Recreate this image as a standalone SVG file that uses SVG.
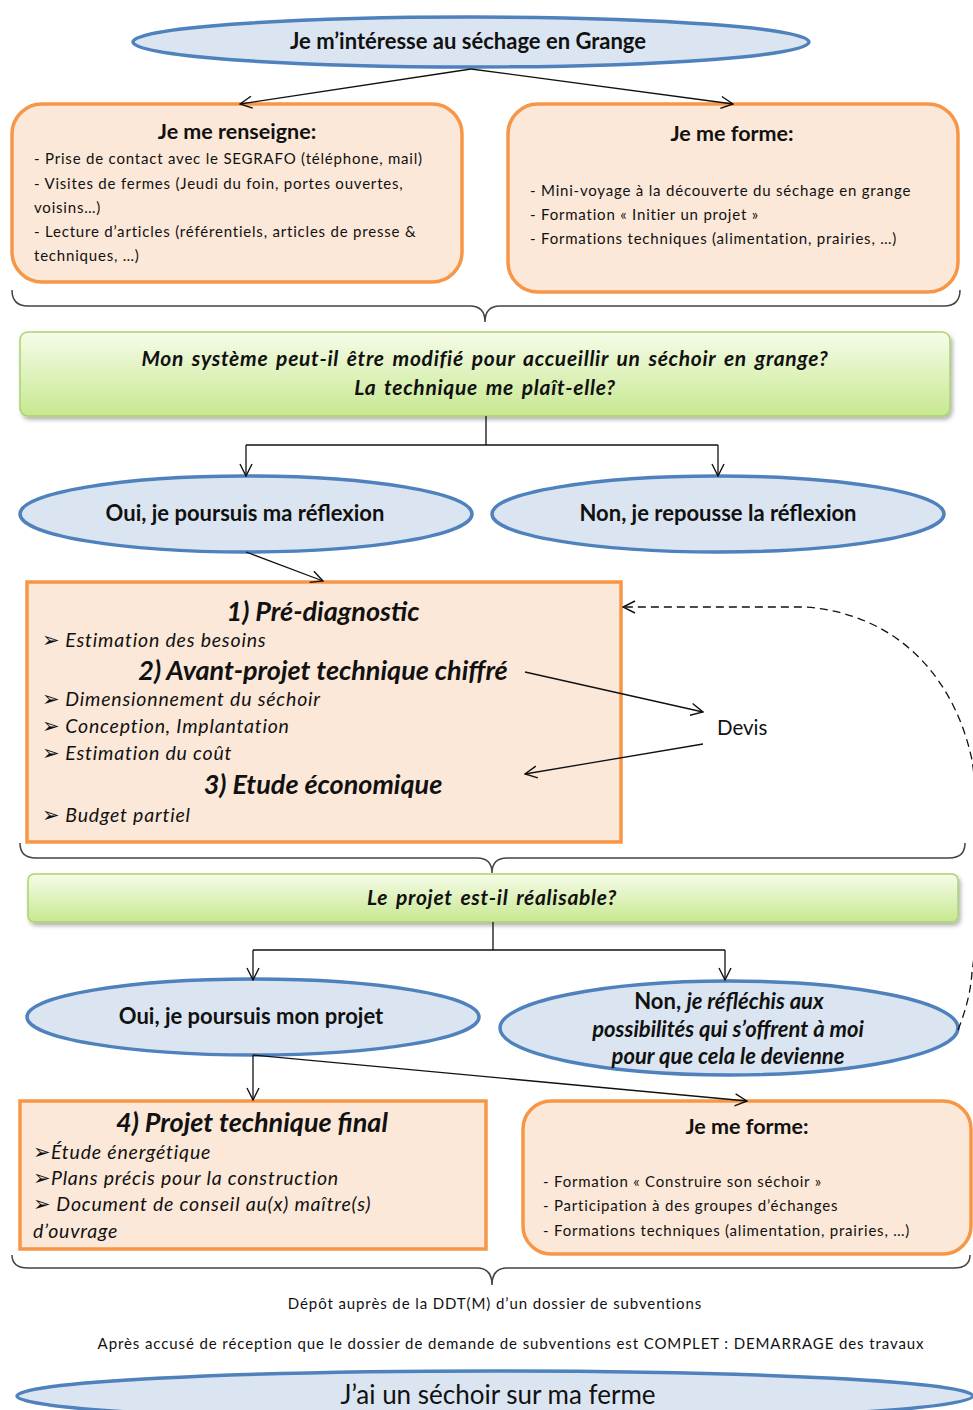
<svg xmlns="http://www.w3.org/2000/svg" width="973" height="1410" viewBox="0 0 973 1410">
<defs>
<style>
text{font-family:Lato,"Open Sans","Liberation Sans",sans-serif;fill:#111}
.ell{fill:#dbe5f1;stroke:#4f81bd;stroke-width:3.5}
.peach{fill:#fce8d8;stroke:#f79646;stroke-width:3.5}
.green{fill:url(#gg);stroke:#a9d46d;stroke-width:1.5;filter:url(#sh)}
.brace{fill:none;stroke:#444;stroke-width:1.5}
.con{fill:none;stroke:#111;stroke-width:1.3}
.t{font-size:22px;font-weight:bold;text-anchor:middle}
.bt{font-size:21.5px;font-weight:bold;text-anchor:middle}
.s{font-size:15px;letter-spacing:0.8px}
.it{font-size:19.5px;font-style:italic;letter-spacing:0.8px}
.bu{font-size:21px;font-style:normal;letter-spacing:0}
.h{font-size:27px;font-weight:bold;font-style:italic;text-anchor:middle}
.q{font-size:21px;font-weight:bold;font-style:italic;text-anchor:middle;letter-spacing:0.7px;word-spacing:2.5px}
.f{font-size:15px;letter-spacing:0.9px;text-anchor:middle}
</style>
<linearGradient id="gg" x1="0" y1="0" x2="0" y2="1">
<stop offset="0" stop-color="#f6fce9"/>
<stop offset="1" stop-color="#c7e890"/>
</linearGradient>
<filter id="sh" x="-5%" y="-20%" width="110%" height="150%">
<feDropShadow dx="2" dy="3" stdDeviation="2" flood-color="#000" flood-opacity="0.3"/>
</filter>
<marker id="a" viewBox="0 0 14 14" refX="13" refY="7" markerWidth="14" markerHeight="14" markerUnits="userSpaceOnUse" orient="auto">
<path d="M1,1 L13,7 L1,13" fill="none" stroke="#111" stroke-width="1.4"/>
</marker>
</defs>
<rect width="973" height="1410" fill="#fff"/>

<g id="n-interesse">
<ellipse class="ell" cx="471" cy="42" rx="338" ry="25"/>
<text class="t" x="468" y="49">Je m’intéresse au séchage en Grange</text>
</g>

<g id="n-renseigne">
<rect class="peach" x="12" y="104" width="450" height="178" rx="30"/>
<text class="bt" x="237" y="139">Je me renseigne:</text>
<text class="s" x="34" y="164">- Prise de contact avec le SEGRAFO (téléphone, mail)</text>
<text class="s" x="34" y="189">- Visites de fermes (Jeudi du foin, portes ouvertes,</text>
<text class="s" x="34" y="213">voisins…)</text>
<text class="s" x="34" y="237">- Lecture d’articles (référentiels, articles de presse &amp;</text>
<text class="s" x="34" y="261">techniques, …)</text>
</g>

<g id="n-forme1">
<rect class="peach" x="508" y="104" width="450" height="188" rx="30"/>
<text class="bt" x="732" y="141">Je me forme:</text>
<text class="s" x="530" y="196">-  Mini-voyage à la découverte du séchage en grange</text>
<text class="s" x="530" y="220">- Formation « Initier un projet »</text>
<text class="s" x="530" y="244">- Formations techniques (alimentation,  prairies, …)</text>
</g>

<g id="n-systeme">
<rect class="green" x="20" y="332" width="930" height="84" rx="8"/>
<text class="q" x="485" y="366">Mon système peut-il être modifié pour accueillir  un séchoir en grange?</text>
<text class="q" x="485" y="395">La technique  me plaît-elle?</text>
</g>

<g id="n-oui1">
<ellipse class="ell" cx="246" cy="514" rx="226" ry="38"/>
<text class="t" x="245" y="521">Oui, je poursuis ma réflexion</text>
</g>

<g id="n-non1">
<ellipse class="ell" cx="718" cy="514" rx="226" ry="38"/>
<text class="t" x="718" y="521">Non, je repousse la réflexion</text>
</g>

<g id="n-etude">
<rect class="peach" x="27" y="582" width="594" height="260"/>
<text class="h" x="323" y="621">1) Pré-diagnostic</text>
<text class="it" x="42" y="647"><tspan class="bu">➢</tspan> Estimation des besoins</text>
<text class="h" x="323" y="680">2) Avant-projet technique chiffré</text>
<text class="it" x="42" y="706"><tspan class="bu">➢</tspan> Dimensionnement du séchoir</text>
<text class="it" x="42" y="733"><tspan class="bu">➢</tspan> Conception, Implantation</text>
<text class="it" x="42" y="760"><tspan class="bu">➢</tspan> Estimation du coût</text>
<text class="h" x="323" y="794">3) Etude économique</text>
<text class="it" x="42" y="822"><tspan class="bu">➢</tspan> Budget partiel</text>
</g>

<g id="n-devis">
<text x="717" y="735" font-size="20.5">Devis</text>
</g>

<g id="n-realisable">
<rect class="green" x="28" y="874" width="930" height="48" rx="6"/>
<text class="q" x="492" y="905">Le projet est-il réalisable?</text>
</g>

<g id="n-oui2">
<ellipse class="ell" cx="253" cy="1017" rx="226" ry="38"/>
<text class="t" x="251" y="1024">Oui, je poursuis mon projet</text>
</g>

<g id="n-non2">
<ellipse class="ell" cx="729" cy="1028" rx="229" ry="47"/>
<text class="t" x="729" y="1009"><tspan>Non, </tspan><tspan font-style="italic">je réfléchis aux</tspan></text>
<text class="t" x="728" y="1037" font-style="italic">possibilités qui s’offrent à moi</text>
<text class="t" x="728" y="1064" font-style="italic">pour que cela le devienne</text>
</g>

<g id="n-final">
<rect class="peach" x="20" y="1101" width="466" height="148"/>
<text class="h" x="252" y="1132">4) Projet technique final</text>
<text class="it" x="33" y="1159"><tspan class="bu">➢</tspan>Étude énergétique</text>
<text class="it" x="33" y="1185"><tspan class="bu">➢</tspan>Plans précis pour la construction</text>
<text class="it" x="33" y="1211"><tspan class="bu">➢</tspan> Document de conseil au(x) maître(s)</text>
<text class="it" x="33" y="1238">d’ouvrage</text>
</g>

<g id="n-forme2">
<rect class="peach" x="523" y="1101" width="448" height="153" rx="28"/>
<text class="bt" x="747" y="1134">Je me forme:</text>
<text class="s" x="543" y="1187">- Formation « Construire son séchoir »</text>
<text class="s" x="543" y="1211">- Participation à des groupes d’échanges</text>
<text class="s" x="543" y="1236">- Formations techniques (alimentation,  prairies, …)</text>
</g>

<g id="n-depot">
<text class="f" x="495" y="1309">Dépôt auprès de la DDT(M) d’un dossier de subventions</text>
</g>

<g id="n-apres">
<text class="f" x="511" y="1349">Après accusé de réception que le dossier de demande de subventions est COMPLET : DEMARRAGE des travaux</text>
</g>

<g id="n-sechoir">
<ellipse class="ell" cx="495" cy="1396" rx="478" ry="25"/>
<text x="498" y="1404" font-size="26" text-anchor="middle">J’ai un séchoir sur ma ferme</text>
</g>

<g id="connectors">
<path class="con" d="M471,69 L240,104" marker-end="url(#a)"/>
<path class="con" d="M471,69 L733,104" marker-end="url(#a)"/>
<path class="brace" d="M12,290 Q12,306 28,306 L470,306 Q485,306 485,322 Q485,306 500,306 L944,306 Q960,306 960,290"/>
<path class="con" d="M486,416 L486,445 M246,445 L718,445"/>
<path class="con" d="M246,445 L246,476" marker-end="url(#a)"/>
<path class="con" d="M718,445 L718,476" marker-end="url(#a)"/>
<path class="con" d="M246,552 L323,581" marker-end="url(#a)"/>
<path class="con" d="M525,672 L703,712" marker-end="url(#a)"/>
<path class="con" d="M703,744 L525,774" marker-end="url(#a)"/>
<path class="con" stroke-dasharray="8,5" d="M958,1030 C966,1010 971,990 972,972 C980,920 980,810 972,760 C955,680 900,614 805,607 L623,607" marker-end="url(#a)"/>
<path class="brace" d="M20,843 Q20,858 36,858 L477,858 Q492,858 492,873 Q492,858 507,858 L949,858 Q965,858 965,843"/>
<path class="con" d="M493,922 L493,950 M253,950 L725,950"/>
<path class="con" d="M253,950 L253,980" marker-end="url(#a)"/>
<path class="con" d="M725,950 L725,980" marker-end="url(#a)"/>
<path class="con" d="M253,1055 L253,1100" marker-end="url(#a)"/>
<path class="con" d="M253,1055 L747,1101" marker-end="url(#a)"/>
<path class="brace" d="M12,1255 Q12,1268 28,1268 L477,1268 Q492,1268 492,1285 Q492,1268 507,1268 L954,1268 Q970,1268 970,1255"/>
</g>
</svg>
